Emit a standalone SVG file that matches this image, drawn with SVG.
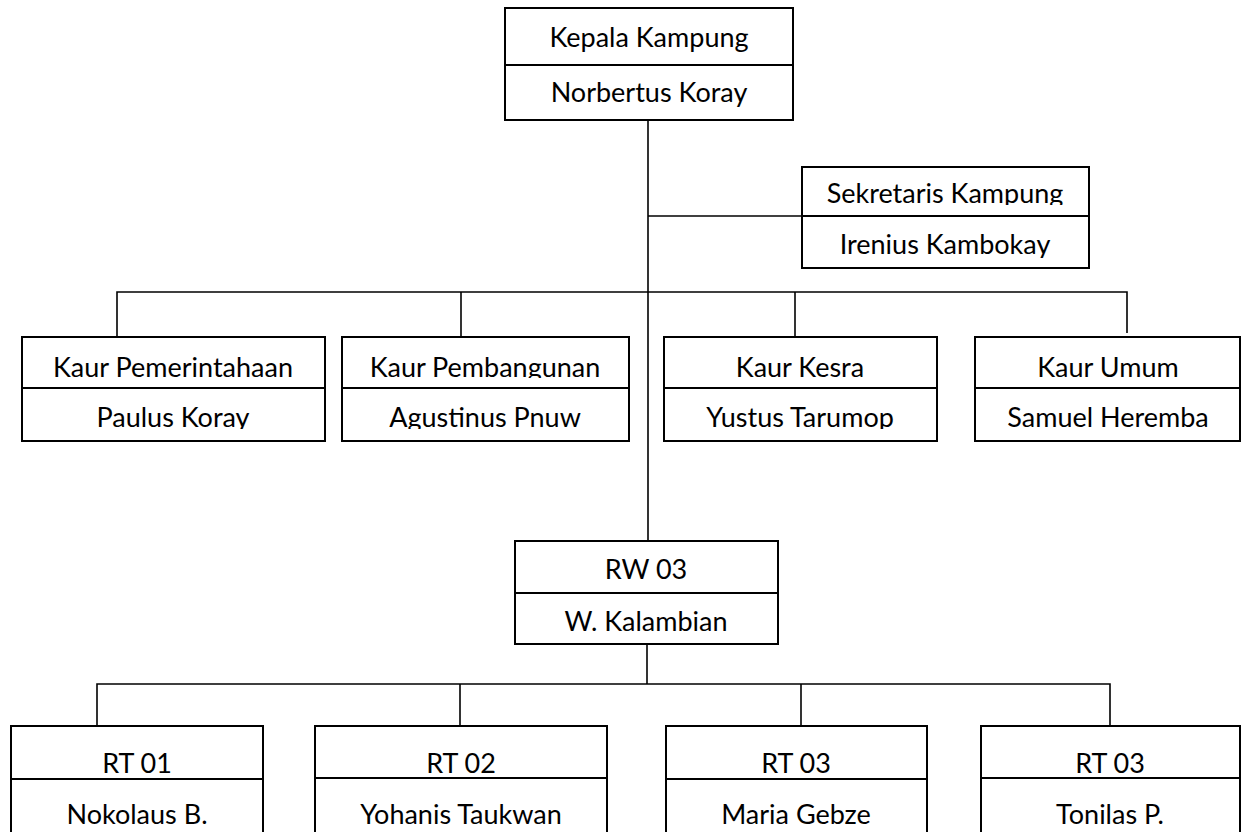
<svg xmlns="http://www.w3.org/2000/svg" width="1243" height="832" viewBox="0 0 1243 832">
<style>
.box{fill:#fff;stroke:#000;stroke-width:2}
.div{stroke:#000;stroke-width:2}
.con{fill:none;stroke:#000;stroke-width:1.6}
text{font-family:Lato,"Liberation Sans",sans-serif;font-size:27px;fill:#000;text-anchor:middle}
</style>
<defs>
<clipPath id="cSek1" clipPathUnits="userSpaceOnUse"><rect x="0" y="160" width="1243" height="45"/></clipPath>
<clipPath id="cSek2" clipPathUnits="userSpaceOnUse"><rect x="0" y="217" width="1243" height="41"/></clipPath>
<clipPath id="cKaur1" clipPathUnits="userSpaceOnUse"><rect x="0" y="338" width="1243" height="40"/></clipPath>
<clipPath id="cKaur2" clipPathUnits="userSpaceOnUse"><rect x="0" y="390" width="1243" height="39"/></clipPath>
</defs>
<rect width="1243" height="832" fill="#fff"/>
<g id="connectors">
<path class="con" d="M648 120V541"/>
<path class="con" d="M648 216H802"/>
<path class="con" d="M117 336V292H1127V333"/>
<path class="con" d="M461 292V337"/>
<path class="con" d="M795 292V337"/>
<path class="con" d="M647 644V684"/>
<path class="con" d="M97 726V684H1110V726"/>
<path class="con" d="M460 684V726"/>
<path class="con" d="M801 684V726"/>
</g>
<g id="kepala">
<rect class="box" x="505" y="8" width="288" height="112"/>
<line class="div" x1="505" y1="65" x2="793" y2="65"/>
<text x="649" y="47">Kepala Kampung</text>
<text x="649" y="102">Norbertus Koray</text>
</g>
<g id="sekretaris">
<rect class="box" x="802" y="167" width="287" height="101"/>
<line class="div" x1="802" y1="216" x2="1089" y2="216"/>
<text x="945" y="203" clip-path="url(#cSek1)">Sekretaris Kampung</text>
<text x="945" y="254" clip-path="url(#cSek2)">Irenius Kambokay</text>
</g>
<g id="kaur-pemerintahaan">
<rect class="box" x="22" y="337" width="303" height="104"/>
<line class="div" x1="22" y1="388" x2="325" y2="388"/>
<text x="173" y="377">Kaur Pemerintahaan</text>
<text x="173" y="427" clip-path="url(#cKaur2)">Paulus Koray</text>
</g>
<g id="kaur-pembangunan">
<rect class="box" x="342" y="337" width="287" height="104"/>
<line class="div" x1="342" y1="388" x2="629" y2="388"/>
<text x="485" y="377" clip-path="url(#cKaur1)">Kaur Pembangunan</text>
<text x="485" y="427" clip-path="url(#cKaur2)">Agustinus Pnuw</text>
</g>
<g id="kaur-kesra">
<rect class="box" x="664" y="337" width="273" height="104"/>
<line class="div" x1="664" y1="388" x2="937" y2="388"/>
<text x="800" y="377">Kaur Kesra</text>
<text x="800" y="427" clip-path="url(#cKaur2)">Yustus Tarumop</text>
</g>
<g id="kaur-umum">
<rect class="box" x="975" y="337" width="265" height="104"/>
<line class="div" x1="975" y1="388" x2="1240" y2="388"/>
<text x="1108" y="377">Kaur Umum</text>
<text x="1108" y="427">Samuel Heremba</text>
</g>
<g id="rw03">
<rect class="box" x="515" y="541" width="263" height="103"/>
<line class="div" x1="515" y1="593" x2="778" y2="593"/>
<text x="646" y="579">RW 03</text>
<text x="646" y="631">W. Kalambian</text>
</g>
<g id="rt01">
<rect class="box" x="11" y="726" width="252" height="120"/>
<line class="div" x1="11" y1="779" x2="263" y2="779"/>
<text x="137" y="773">RT 01</text>
<text x="137" y="824">Nokolaus B.</text>
</g>
<g id="rt02">
<rect class="box" x="315" y="726" width="292" height="120"/>
<line class="div" x1="315" y1="778" x2="607" y2="778"/>
<text x="461" y="773">RT 02</text>
<text x="461" y="824">Yohanis Taukwan</text>
</g>
<g id="rt03a">
<rect class="box" x="666" y="726" width="261" height="120"/>
<line class="div" x1="666" y1="779" x2="927" y2="779"/>
<text x="796" y="773">RT 03</text>
<text x="796" y="824">Maria Gebze</text>
</g>
<g id="rt03b">
<rect class="box" x="981" y="726" width="259" height="120"/>
<line class="div" x1="981" y1="778" x2="1240" y2="778"/>
<text x="1110" y="773">RT 03</text>
<text x="1110" y="824">Tonilas P.</text>
</g>
</svg>
